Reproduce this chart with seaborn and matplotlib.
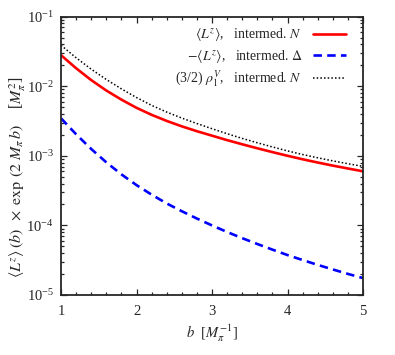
import matplotlib
matplotlib.use("Agg")
import matplotlib.pyplot as plt
import matplotlib.ticker as mticker
import numpy as np
import pandas as pd
import seaborn as sns

# data
b_values = [1.0, 1.2, 1.4, 1.6, 1.8, 2.0, 2.2, 2.4, 2.6, 2.8, 3.0,
            3.2, 3.4, 3.6, 3.8, 4.0, 4.2, 4.4, 4.6, 4.8, 5.0]
lz_N = [0.02799, 0.01816, 0.01227, 0.00869, 0.00643, 0.00490, 0.00389, 0.003177, 0.002655, 0.00226, 0.00195,
        0.001683, 0.001466, 0.001285, 0.001132, 0.001002, 0.000893, 0.000802, 0.000724, 0.000658, 0.000600]
lz_Delta = [3.467e-3, 2.042e-3, 1.256e-3, 8.07e-4, 5.42e-4, 3.80e-4, 2.77e-4, 2.07e-4, 1.60e-4, 1.256e-4, 1.00e-4,
            8.05e-5, 6.56e-5, 5.41e-5, 4.49e-5, 3.75e-5, 3.18e-5, 2.71e-5, 2.33e-5, 2.01e-5, 1.75e-5]
rho_N = [0.0389, 0.0257, 0.01762, 0.01253, 0.00918, 0.00689, 0.00532, 0.00426, 0.00349, 0.00291, 0.002455,
         0.00208, 0.001782, 0.001542, 0.001343, 0.001178, 0.001045, 0.000938, 0.000847, 0.000771, 0.000706]

labels = [r"$\langle L^z\rangle$,   intermed. $N$",
          r"$-\langle L^z\rangle$,   intermed. $\Delta$",
          r"(3/2) $\rho_1^V$,   intermed. $N$"]
xticks = [1, 2, 3, 4, 5]

sns.set_style("ticks")
plt.rcParams["font.family"] = ["Liberation Serif", "DejaVu Serif"]
plt.rcParams["mathtext.fontset"] = "stix"

n = len(b_values)
df = pd.DataFrame({"b": b_values * 3,
                   "val": lz_N + lz_Delta + rho_N,
                   "series": [labels[0]] * n + [labels[1]] * n + [labels[2]] * n})

fig = plt.figure(figsize=(3.95, 3.55), dpi=100)
ax = fig.add_axes([61 / 395, 1 - 295 / 355, 302 / 395, (295 - 16.7) / 355])

styles = {labels[0]: dict(color="#ff0000", lw=1.9, ls="-"),
          labels[1]: dict(color="#0000ff", lw=1.9, ls=(0, (3.2, 2.0))),
          labels[2]: dict(color="black", lw=1.1, ls=(0, (1, 1.4)))}
for lab in labels:
    sub = df[df["series"] == lab]
    sns.lineplot(data=sub, x="b", y="val", ax=ax, label=lab, **styles[lab])

ax.set_yscale("log")
ax.set_xlim(1, 5)
ax.set_ylim(1e-5, 1e-1)
ax.set_xticks(xticks)
ax.set_xticklabels([str(t) for t in xticks])
ax.xaxis.set_minor_locator(mticker.MultipleLocator(0.2))
ax.yaxis.set_major_locator(mticker.LogLocator(base=10, numticks=10))
ax.yaxis.set_minor_locator(mticker.LogLocator(base=10, subs=np.arange(2, 10), numticks=20))
ax.yaxis.set_minor_formatter(mticker.NullFormatter())
ax.yaxis.set_major_formatter(mticker.LogFormatterMathtext())
ax.tick_params(which="both", direction="in", top=True, right=True, labelsize=10.5, width=0.9)
ax.tick_params(which="major", length=4.5)
ax.tick_params(axis="x", which="major", pad=7)
ax.tick_params(axis="y", which="major", pad=5)
ax.tick_params(which="minor", length=2.5)
for s in ax.spines.values():
    s.set_linewidth(1.3)

ax.set_xlabel("")
ax.set_ylabel("")
fig.text(212 / 395, 1 - 333 / 355, r"$b$  [$M_\pi^{-1}$]", ha="center", va="center", fontsize=10.5)
fig.text(18 / 395, 1 - 177 / 355,
         r"$\langle L^z\rangle\,(b)\;\;\times\;\exp\;(2\;M_\pi\, b)$    [$M_\pi^2$]",
         ha="center", va="center", rotation=90, fontsize=11.5)

ax.legend(loc="upper right", bbox_to_anchor=(0.962, 0.985), frameon=False, markerfirst=False,
          fontsize=10, handlelength=2.4, labelspacing=0.3, borderaxespad=0.0,
          handletextpad=0.75)

fig.savefig("out.png", dpi=100)
